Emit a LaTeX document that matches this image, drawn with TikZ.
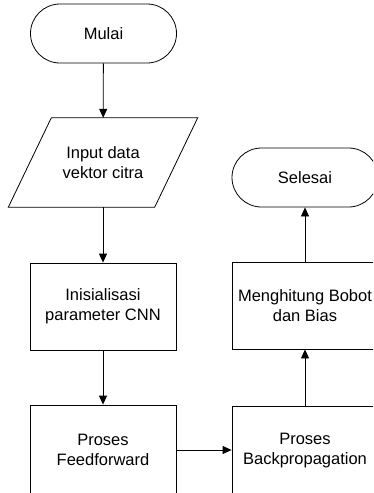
\documentclass[tikz,border=0pt]{standalone}
\usepackage{fontspec}
\setmainfont{Liberation Sans}
\usetikzlibrary{shapes.misc,arrows.meta}
\begin{document}
\begin{tikzpicture}[x=1pt,y=-1pt,
  every node/.style={font=\fontsize{16.5}{20}\selectfont, align=center, inner sep=0pt},
  term/.style={rounded rectangle, draw, line width=0.8pt, minimum width=146pt, minimum height=59pt},
  proc/.style={rectangle, draw, line width=0.8pt, minimum width=146pt, minimum height=87pt},
  io/.style={rectangle, draw=none, minimum width=146pt, minimum height=89pt},
  conn/.style={line width=0.8pt, -{Triangle[length=9pt,width=8pt]}}]
\useasboundingbox (0,0) rectangle (373,493);
\clip (0,0) rectangle (373,493);
\node[term] (start) at (103.5,33.5) {Mulai};
\node[io] (in) at (103,162.5) {Input data\\vektor citra};
\draw[line width=0.8pt] ([xshift=21.5pt]in.north west) -- ([xshift=21.5pt]in.north east)
  -- ([xshift=-21.5pt]in.south east) -- ([xshift=-21.5pt]in.south west) -- cycle;
\node[proc] (init) at (103,306.5) {Inisialisasi\\parameter CNN};
\node[proc, minimum height=90pt] (ff) at (103,450) {Proses\\Feedforward};
\node[proc, minimum height=90pt] (bp) at (305,451) {Proses\\Backpropagation};
\node[proc] (hb) at (305,305.5) {Menghitung Bobot\\dan Bias};
\node[term] (end) at (305,177.5) {Selesai};
\draw[conn] (start) -- (in);
\draw[conn] (in) -- (init);
\draw[conn] (init) -- (ff);
\draw[conn] (ff.east) -- (ff.east -| bp.west);
\draw[conn] (bp) -- (hb);
\draw[conn] (hb) -- (end);
\end{tikzpicture}
\end{document}
